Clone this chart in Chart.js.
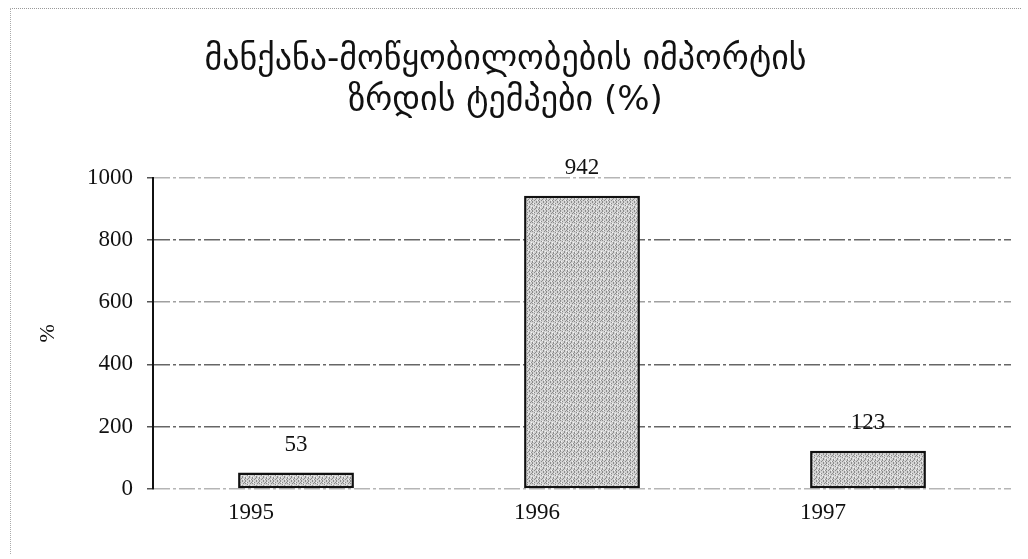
<!DOCTYPE html>
<html>
<head>
<meta charset="utf-8">
<script src="https://cdn.jsdelivr.net/npm/chart.js@4/dist/chart.umd.min.js"></script>
<style>
  body { margin: 0; background: #fff; }
  #wrap { position: relative; width: 1028px; height: 559px; }
  #frame { position: absolute; left: 10px; top: 8px; width: 1010px; height: 545px;
           border-top: 1px dotted #999; border-left: 1px dotted #aaa; pointer-events: none; }
</style>
</head>
<body>
<div id="wrap">
  <canvas id="importChart"></canvas>
  <div id="frame"></div>
</div>
<script>
// ზრდის ტემპები წლების მიხედვით (%)
const years = ['1995', '1996', '1997'];
const growth = [53, 942, 123];
const titleLines = ['მანქანა-მოწყობილობების იმპორტის', 'ზრდის ტემპები (%)'];
const yTicks = [0, 200, 400, 600, 800, 1000];

// ნაცრისფერი წერტილოვანი შევსება სვეტებისთვის
function grainPattern() {
  const c = document.createElement('canvas');
  c.width = 7; c.height = 9;
  const g = c.getContext('2d');
  g.fillStyle = '#d2d2d2';
  g.fillRect(0, 0, 7, 9);
  const dark = [[0,0],[0,1],[0,3],[0,4],[0,6],[2,2],[2,5],[2,7],[3,1],[4,0],[4,3],[4,4],[4,8],[5,6],[6,2],[6,5]];
  g.fillStyle = '#8c8c8c';
  for (const [x, y] of dark) g.fillRect(x, y, 1, 1);
  g.fillStyle = '#f4f4f4';
  for (const [x, y] of [[1,5],[3,7],[5,2],[6,8],[1,0]]) g.fillRect(x, y, 1, 1);
  return g.createPattern(c, 'repeat');
}

// მნიშვნელობები სვეტების თავზე
const valueLabels = {
  id: 'valueLabels',
  afterDatasetsDraw(chart) {
    const ctx = chart.ctx;
    const meta = chart.getDatasetMeta(0);
    ctx.save();
    ctx.font = '23px "Liberation Serif"';
    ctx.fillStyle = '#111';
    ctx.textAlign = 'center';
    ctx.textBaseline = 'bottom';
    meta.data.forEach((bar, i) => {
      ctx.fillText(String(growth[i]), bar.x, bar.y - 16);
    });
    ctx.restore();
  }
};

const gridColor = (ctx) => {
  const v = ctx.tick ? ctx.tick.value : null;
  if (v === 0 || v === 1000) return '#b5b5b5';
  if (v === 600) return '#a0a0a0';
  return '#666';
};

new Chart(document.getElementById('importChart'), {
  type: 'bar',
  data: {
    labels: years,
    datasets: [{
      data: growth,
      backgroundColor: grainPattern(),
      borderColor: '#111',
      borderWidth: 2.5,
      borderSkipped: false,
      barPercentage: 0.405,
      categoryPercentage: 1
    }]
  },
  options: {
    responsive: true,
    maintainAspectRatio: false,
    animation: false,
    layout: { padding: { top: 10, right: 17, bottom: 0, left: 0 } },
    plugins: {
      legend: { display: false },
      tooltip: { enabled: false },
      title: {
        display: true,
        text: titleLines,
        color: '#111',
        font: { family: '"DejaVu Sans"', size: 34, weight: 'normal', lineHeight: 1.2 },
        padding: { top: 30, bottom: 56 }
      }
    },
    scales: {
      x: {
        grid: { display: false, drawTicks: false },
        border: { display: false },
        ticks: {
          color: '#111',
          font: { family: '"Liberation Serif"', size: 23 },
          padding: 10,
          labelOffset: -45
        },
        afterFit(scale) { scale.height = 70; }
      },
      y: {
        min: 0,
        max: 1000,
        afterBuildTicks(scale) { scale.ticks = yTicks.map(v => ({ value: v })); },
        title: {
          display: true,
          text: '%',
          color: '#111',
          font: { family: '"Liberation Serif"', size: 22 },
          padding: { top: 35, bottom: 0 }
        },
        grid: { color: gridColor, lineWidth: 1.5, tickLength: 6, tickColor: '#555' },
        border: { display: true, color: '#111', width: 2, dash: [16, 3, 3, 3] },
        ticks: {
          color: '#111',
          font: { family: '"Liberation Serif"', size: 23 },
          padding: 14,
          callback: (v) => String(v)
        },
        afterFit(scale) { scale.width = 153; }
      }
    }
  },
  plugins: [valueLabels]
});
</script>
</body>
</html>
